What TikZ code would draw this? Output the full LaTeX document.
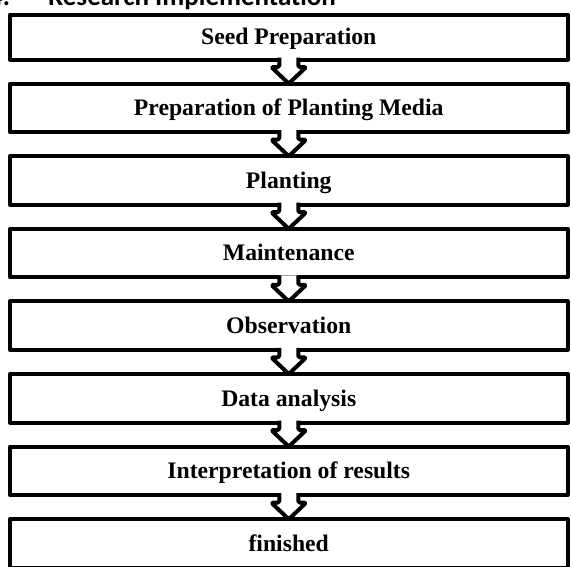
\documentclass[tikz,border=0pt]{standalone}
\usepackage{fontspec}
\setmainfont{Liberation Serif}
\newfontfamily\headfont{Carlito}
\usetikzlibrary{positioning,calc}

\begin{document}
\begin{tikzpicture}[x=1pt, y=-1pt,
  stage/.style={draw, line width=4pt, line join=round, outer sep=0pt,
    inner sep=0pt, minimum width=557.5pt, minimum height=48.5pt,
    text height=15.6pt, text depth=0pt,
    font=\fontsize{23.7}{28}\selectfont\bfseries},
  flowarrow/.style={draw, fill=white, line width=4pt, line join=round,
    rounded corners=1.5pt},
  node distance=24.1pt]

  \useasboundingbox (0,0) rectangle (571,566);
  \clip (0,0) rectangle (571,566);

  % heading, cut at the top of the page
  \node[anchor=base west, inner sep=0pt,
        font=\headfont\fontsize{27}{32}\selectfont\bfseries] (title)
    at (-11,5) {4.\hspace{38pt}Research Implementation};

  % the stages
  \node[stage, minimum height=45pt, anchor=north] (seed) at (288.75,14.5) {Seed Preparation};
  \node[stage, below=of seed] (media) {Preparation of Planting Media};
  \node[stage, below=of media] (plant) {Planting};
  \node[stage, below=of plant] (care) {Maintenance};
  \node[stage, below=of care] (observe) {Observation};
  \node[stage, below=of observe] (analysis) {Data analysis};
  \node[stage, below=of analysis] (interpret) {Interpretation of results};
  \node[stage, below=of interpret] (done) {finished};

  % hollow block arrows between the stages
  \foreach \a/\b in {seed/media, media/plant, plant/care, care/observe,
                     observe/analysis, analysis/interpret, interpret/done}{
    \draw[flowarrow] ($(\a.south)+(-9.5,-2)$) -- ++(0,9.5) -- ++(-8,0) -- (\b.north)
      -- ($(\a.south)+(17.5,7.5)$) -- ++(-8,0) -- ++(0,-9.5);
  }

\end{tikzpicture}
\end{document}
